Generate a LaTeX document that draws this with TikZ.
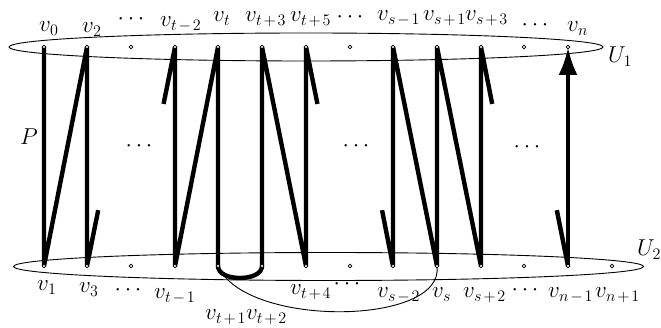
\RequirePackage{fix-cm}
\documentclass[tikz,border=0pt]{standalone}
\usetikzlibrary{arrows.meta,calc}
\newcommand\pp{\mskip2mu{+}\mskip2mu}
\newcommand\mmn{\mskip2mu{-}\mskip2mu}
\begin{document}
\begin{tikzpicture}[x=1pt,y=-1pt,
  lab/.style={font=\fontsize{23}{27}\selectfont,inner sep=0pt,anchor=base west},
  dts/.style={font=\fontsize{23}{27}\selectfont,inner sep=0pt},
  pth/.style={line width=4.4pt,line join=bevel,line cap=butt},
  vtx/.style={circle,draw,fill=white,inner sep=0pt,minimum size=3.6pt,line width=0.7pt},
  ell/.style={line width=0.9pt}]
\useasboundingbox (0,0) rectangle (661,328);
% vertices
\foreach \i/\x in {0/44,1/87,2/131,3/175,4/218,5/262,6/306,7/350,8/393,9/437,10/481,11/524,12/568}{
  \coordinate (T\i) at (\x,47);
}
\foreach \i/\x in {0/44,1/87,2/131,3/175,4/218,5/262,6/306,7/350,8/393,9/437,10/481,11/524,12/568,13/612}{
  \coordinate (B\i) at (\x,266);
}
% ellipses
\draw[ell] (306,47) ellipse [x radius=297pt, y radius=14pt];
\draw[ell] (328.5,266.5) ellipse [x radius=315pt, y radius=14pt];
% curve
\draw[line width=0.9pt] (B4) .. controls (245,328) and (445,326) .. (B9);
% stubs
\coordinate (S1) at ($(B1)!0.255!(T2)$);
\coordinate (S2) at ($(T3)!0.26!(B2)$);
\coordinate (S3) at ($(T6)!0.26!(B7)$);
\coordinate (S4) at ($(B8)!0.255!(T7)$);
\coordinate (S5) at ($(T10)!0.26!(B11)$);
\coordinate (S6) at ($(B12)!0.255!(T11)$);
% thick path
\draw[pth] (T0) -- (B0) -- (T1) -- (B1) -- (S1);
\draw[pth] (S2) -- (T3) -- (B3) -- (T4) -- (B4) .. controls (218,282) and (262,282) .. (B5) -- (T5) -- (B6) -- (T6) -- (S3);
\draw[pth] (S4) -- (B8) -- (T8) -- (B9) -- (T9) -- (B10) -- (T10) -- (S5);
\draw[pth] (S6) -- (B12);
\draw[pth,-{Latex[length=28pt,width=19pt]}] (B12) -- (T12);
% vertex marks
\foreach \i in {0,...,12}{ \node[vtx] (nT\i) at (T\i) {}; }
\foreach \i in {0,...,13}{ \node[vtx] (nB\i) at (B\i) {}; }
% top labels
\node[lab] (l0) at (39,32) {$v_0$};
\node[lab] (l2) at (82,33) {$v_2$};
\node[dts] (d1) at (131,19) {$\cdots$};
\node[lab] (ltm2) at (160,27) {$v_{t\mmn2}$};
\node[lab] (lt) at (213,22) {$v_t$};
\node[lab] (ltp3) at (245,22) {$v_{t\pp3}$};
\node[lab] (ltp5) at (290,22) {$v_{t\pp5}$};
\node[dts] (d2) at (350,17) {$\cdots$};
\node[lab] (lsm1) at (377,21) {$v_{s\mmn1}$};
\node[lab] (lsp1) at (423,21) {$v_{s\pp1}$};
\node[lab] (lsp3) at (465,21) {$v_{s\pp3}$};
\node[dts] (d3) at (535,25) {$\cdots$};
\node[lab] (ln) at (567,32) {$v_n$};
% bottom labels
\node[lab] (l1) at (37,291) {$v_1$};
\node[lab] (l3) at (79,293) {$v_3$};
\node[dts] (d4) at (128,290) {$\cdots$};
\node[lab] (ltm1) at (154,299) {$v_{t\mmn1}$};
\node[lab] (ltp12) at (205,320) {$v_{t\pp1}v_{t\pp2}$};
\node[lab] (ltp4) at (290,295) {$v_{t\pp4}$};
\node[dts] (d5) at (347,284) {$\cdots$};
\node[lab] (lsm2) at (377,298) {$v_{s\mmn2}$};
\node[lab] (ls) at (432,298) {$v_s$};
\node[lab] (lsp2) at (463,298) {$v_{s\pp2}$};
\node[dts] (d6) at (525,290) {$\cdots$};
\node[lab] (lnm1) at (548,298) {$v_{n\mmn1}$};
\node[lab] (lnp1) at (595,298) {$v_{n\pp1}$};
% middle dots
\node[dts] (m1) at (139,146) {$\cdots$};
\node[dts] (m2) at (356,146) {$\cdots$};
\node[dts] (m3) at (527,147) {$\cdots$};
% set labels
\node[lab] (P) at (20,145) {$P$};
\node[lab] (U1) at (608,63) {$U_1$};
\node[lab] (U2) at (637,256) {$U_2$};
\end{tikzpicture}
\end{document}
